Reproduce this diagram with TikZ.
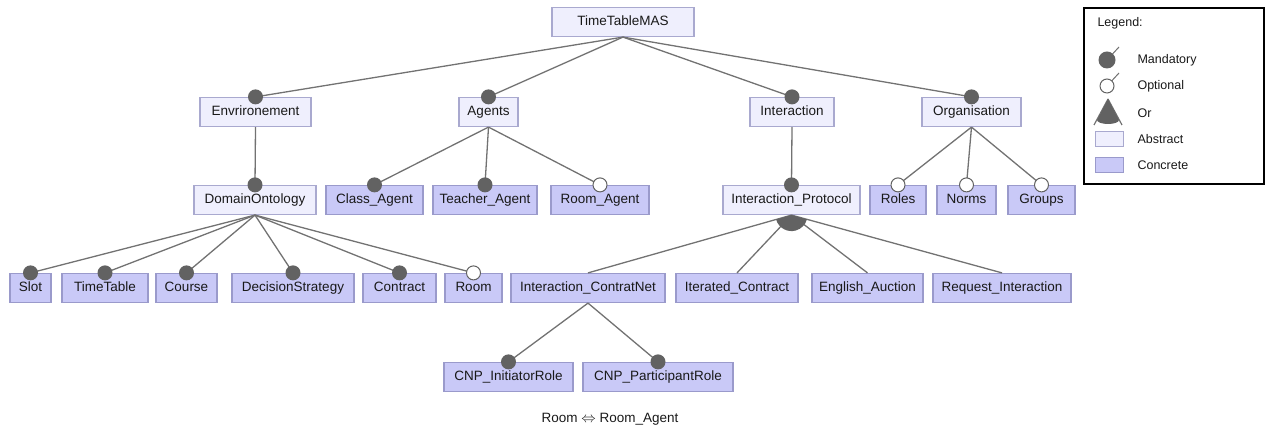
\documentclass[tikz,border=0pt]{standalone}
\usepackage{fontspec}
\setmainfont{Liberation Sans}
\usetikzlibrary{calc}
\definecolor{absfill}{HTML}{EFEFFD}
\definecolor{absdraw}{HTML}{A9A9CF}
\definecolor{confill}{HTML}{C9C9F7}
\definecolor{condraw}{HTML}{9A9ACB}
\definecolor{edgecol}{HTML}{727272}
\definecolor{dotcol}{HTML}{626262}
\begin{document}
\begin{tikzpicture}[x=1pt,y=1pt,
  every node/.style={font=\fontsize{13.5}{16}\selectfont, text=black!90},
  absbox/.style={draw=absdraw, fill=absfill, line width=1.2pt, minimum height=29pt, minimum width=#1, inner sep=0pt, text height=10pt, text depth=3pt},
  conbox/.style={draw=condraw, fill=confill, line width=1.2pt, minimum height=29pt, minimum width=#1, inner sep=0pt, text height=10pt, text depth=3pt},
  link/.style={draw=edgecol, line width=1.3pt},
  mand/.style={fill=dotcol},
  opt/.style={fill=white, draw=dotcol, line width=1pt},
  legtext/.style={anchor=west, font=\fontsize{12.5}{15}\selectfont}]
\useasboundingbox (0,0) rectangle (1269,427);
% level 0
\node[absbox=142pt] (root) at (623,405) {TimeTableMAS};
% level 1
\node[absbox=111pt] (env) at (255.5,315) {Envrironement};
\node[absbox=59pt] (agents) at (488.5,315) {Agents};
\node[absbox=84pt] (inter) at (792,315) {Interaction};
\node[absbox=99pt] (org) at (971.5,315) {Organisation};
% level 2
\node[absbox=122pt] (dom) at (255,227) {DomainOntology};
\node[conbox=97pt] (class) at (374.5,227) {Class\_Agent};
\node[conbox=104pt] (teacher) at (485,227) {Teacher\_Agent};
\node[conbox=98pt] (roomag) at (600,227) {Room\_Agent};
\node[absbox=137pt] (ip) at (791.5,227) {Interaction\_Protocol};
\node[conbox=56pt] (roles) at (898,227) {Roles};
\node[conbox=59pt] (norms) at (966.5,227) {Norms};
\node[conbox=67pt] (groups) at (1041.5,227) {Groups};
% level 3
\node[conbox=41pt] (slot) at (30.5,139) {Slot};
\node[conbox=86pt] (tt) at (105,139) {TimeTable};
\node[conbox=61pt] (course) at (186.5,139) {Course};
\node[conbox=122pt] (ds) at (293,139) {DecisionStrategy};
\node[conbox=73pt] (contract) at (399.5,139) {Contract};
\node[conbox=57pt] (room) at (473.5,139) {Room};
\node[conbox=154pt] (icn) at (588,139) {Interaction\_ContratNet};
\node[conbox=122pt] (itc) at (737,139) {Iterated\_Contract};
\node[conbox=111pt] (eng) at (867.5,139) {English\_Auction};
\node[conbox=138pt] (req) at (1002,139) {Request\_Interaction};
% level 4
\node[conbox=129pt] (cnpi) at (508.5,50) {CNP\_InitiatorRole};
\node[conbox=150pt] (cnpp) at (658,50) {CNP\_ParticipantRole};
% constraint
\node (cons) at (610,8) {Room $\Leftrightarrow$ Room\_Agent};
% connectors
\foreach \p/\c in {root/env,root/agents,root/inter,root/org,env/dom,agents/class,agents/teacher,agents/roomag,inter/ip,org/roles,org/norms,org/groups,dom/slot,dom/tt,dom/course,dom/ds,dom/contract,dom/room,ip/icn,ip/itc,ip/eng,ip/req,icn/cnpi,icn/cnpp}
  \draw[link] (\p.south) -- (\c.north);
% or-group sector
\fill[dotcol] let \p1=($(icn.north)-(ip.south)$), \p2=($(req.north)-(ip.south)$),
  \n1={atan2(\y1,\x1)}, \n2={atan2(\y2,\x2)} in
  (ip.south) -- ++(\n1:16) arc[start angle=\n1, end angle=\n2, radius=16] -- cycle;
% circles
\foreach \c in {env,agents,inter,org,dom,class,teacher,ip,slot,tt,course,ds,contract,cnpi,cnpp}
  \fill[mand] (\c.north) circle (7.5);
\foreach \c in {roomag,roles,norms,groups,room}
  \filldraw[opt] (\c.north) circle (7);
% legend
\node[draw=black, line width=1.2pt, minimum width=180pt, minimum height=176pt, inner sep=0pt] (legend) at (1174,331) {};
\node[legtext] (lt) at (1094,404) {Legend:};
\coordinate (m) at (1107,367);
\draw[link, line width=1pt] (m) -- ++(12,13);
\fill[mand] (m) circle (8.5);
\node[legtext] (lm) at (1134,367) {Mandatory};
\coordinate (o) at (1107,341);
\draw[link, line width=1pt] (o) -- ++(12,13);
\filldraw[opt] (o) circle (7);
\node[legtext] (lo) at (1134,341) {Optional};
\coordinate (or) at (1108,328);
\draw[link, line width=1.2pt] (or) -- ++(-14,-26) (or) -- ++(14,-26);
\fill[dotcol] (or) -- ++(-11,-21) arc[start angle=180, end angle=360, x radius=11, y radius=4] -- cycle;
\node[legtext] (lor) at (1134,314) {Or};
\node[draw=absdraw, fill=absfill, line width=1pt, minimum width=28pt, minimum height=15pt, inner sep=0pt] (la) at (1109,288) {};
\node[legtext] (lat) at (1134,288) {Abstract};
\node[draw=condraw, fill=confill, line width=1pt, minimum width=28pt, minimum height=15pt, inner sep=0pt] (lc) at (1109,262) {};
\node[legtext] (lct) at (1134,262) {Concrete};
\end{tikzpicture}
\end{document}
